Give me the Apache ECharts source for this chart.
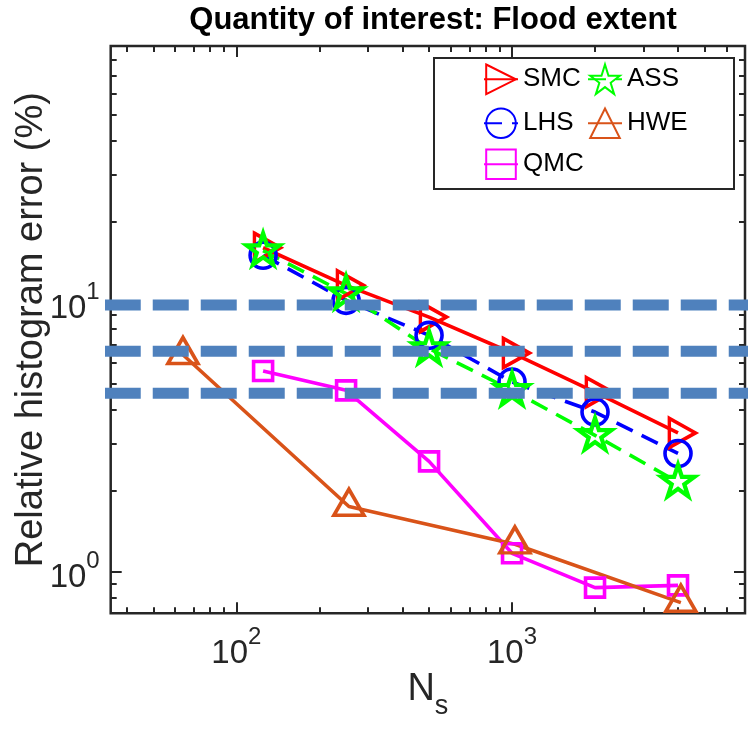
<!DOCTYPE html>
<html>
<head>
<meta charset="utf-8">
<script src="https://cdn.jsdelivr.net/npm/echarts@6/dist/echarts.min.js"></script>
<style>
  html, body { margin: 0; padding: 0; background: #fff; }
  #chart { width: 748px; height: 735px; }
</style>
</head>
<body>
<div id="chart"></div>
<script>
// Sample sizes
const nsStandard = [125, 250, 500, 1000, 2000, 4000];
const nsHwe = [64, 256, 1024, 4096];

// Relative histogram error (%) for each sampling method
const errSMC = [16.0, 11.6, 8.84, 6.5, 4.65, 3.28];
const errLHS = [15.0, 10.2, 7.56, 5.07, 3.92, 2.75];
const errQMC = [5.57, 4.72, 2.57, 1.17, 0.872, 0.889];
const errASS = [15.6, 10.8, 6.75, 4.72, 3.21, 2.15];
const errHWE = [6.40, 1.746, 1.264, 0.767];

// Reference error levels (%), drawn across the whole width
const refLevels = [9.8, 6.6, 4.6];
const refSpan = [33.3, 8000];

// Axis ranges and tick values
const xRange = [35, 7000];
const yRange = [0.7, 90];
const xMajor = [100, 1000];
const xMinor = [40, 50, 60, 70, 80, 90, 200, 300, 400, 500, 600, 700, 800, 900, 2000, 3000, 4000, 5000, 6000];
const yMajor = [1, 10];
const yMinor = [0.8, 0.9, 2, 3, 4, 5, 6, 7, 8, 9, 20, 30, 40, 50, 60, 70, 80];

const FONT = '"Liberation Sans", Arial, Helvetica, sans-serif';
const AXIS_COLOR = '#262626';
const LW = 3.6;

function pairs(xs, ys) { return xs.map((x, i) => [x, ys[i]]); }

// Marker shapes
const triRight = 'path://M0,0 L26,14.5 L0,29 Z';
const triUp = 'path://M15,0 L30,26 L0,26 Z';
function starPath() {
  const pts = [];
  for (let k = 0; k < 10; k++) {
    const a = (-90 + 36 * k) * Math.PI / 180;
    const r = k % 2 === 0 ? 100 : 38.2;
    pts.push((r * Math.cos(a)).toFixed(2) + ',' + (r * Math.sin(a)).toFixed(2));
  }
  return 'path://M' + pts.join(' L') + ' Z';
}
const star = starPath();

const expLabel = v => '{b|10}{s|' + Math.round(Math.log10(v)) + '}';
const labelRich = {
  b: { fontSize: 33, lineHeight: 45, verticalAlign: 'bottom', color: AXIS_COLOR, fontFamily: FONT },
  s: { fontSize: 24, lineHeight: 24, verticalAlign: 'top', color: AXIS_COLOR, fontFamily: FONT }
};

function makeAxis(dim, pos, ticks, len, withLabels) {
  const range = dim === 'x' ? xRange : yRange;
  const ax = {
    type: 'log', logBase: 10, min: range[0], max: range[1], position: pos,
    axisLine: { show: false },
    splitLine: { show: false },
    axisTick: { show: true, inside: true, length: len, customValues: ticks,
      lineStyle: { color: AXIS_COLOR, width: 2 } },
    axisLabel: { show: false }
  };
  if (withLabels) {
    ax.axisLabel = { show: true, customValues: ticks, formatter: expLabel, rich: labelRich,
      margin: dim === 'x' ? 12 : 11 };
  }
  return ax;
}

const xAxes = [
  makeAxis('x', 'bottom', xMajor, 11, true),
  makeAxis('x', 'bottom', xMinor, 6, false),
  makeAxis('x', 'top', xMajor, 11, false),
  makeAxis('x', 'top', xMinor, 6, false)
];
Object.assign(xAxes[0], {
  name: '{n|N}{s|s}', nameLocation: 'middle', nameGap: 57, nameMoveOverlap: false,
  nameTextStyle: { rich: {
    n: { fontSize: 38, lineHeight: 50, verticalAlign: 'top', color: AXIS_COLOR, fontFamily: FONT },
    s: { fontSize: 27, lineHeight: 27, verticalAlign: 'bottom', color: AXIS_COLOR, fontFamily: FONT }
  } }
});
const yAxes = [
  makeAxis('y', 'left', yMajor, 11, true),
  makeAxis('y', 'left', yMinor, 6, false),
  makeAxis('y', 'right', yMajor, 11, false),
  makeAxis('y', 'right', yMinor, 6, false)
];
Object.assign(yAxes[0], {
  name: 'Relative histogram error (%)', nameLocation: 'middle', nameGap: 60, nameRotate: 90,
  nameMoveOverlap: false,
  nameTextStyle: { fontSize: 38, color: AXIS_COLOR, fontFamily: FONT }
});

function methodSeries(name, xs, ys, color, opts) {
  return Object.assign({
    name: name, type: 'line', data: pairs(xs, ys),
    xAxisIndex: 0, yAxisIndex: 0,
    lineStyle: { color: color, width: LW },
    itemStyle: { color: 'rgba(0,0,0,0)', borderColor: color, borderWidth: LW },
    emphasis: { disabled: true },
    z: 3
  }, opts);
}

const series = [
  methodSeries('SMC', nsStandard, errSMC, '#FF0000', {
    symbol: triRight, symbolSize: [26, 29], symbolOffset: [26 / 6, 0]
  }),
  methodSeries('LHS', nsStandard, errLHS, '#0000FF', {
    symbol: 'circle', symbolSize: 26,
    lineStyle: { color: '#0000FF', width: LW, type: [18, 10] }
  }),
  methodSeries('QMC', nsStandard, errQMC, '#FF00FF', {
    symbol: 'rect', symbolSize: 19
  }),
  methodSeries('ASS', nsStandard, errASS, '#00FF00', {
    symbol: star, symbolSize: [33, 31.4], symbolOffset: [0, -1.6],
    lineStyle: { color: '#00FF00', width: LW, type: [18, 10] },
    itemStyle: { color: 'rgba(0,0,0,0)', borderColor: '#00FF00', borderWidth: 4.2 }
  }),
  methodSeries('HWE', nsHwe, errHWE, '#D95319', {
    symbol: triUp, symbolSize: [30, 26], symbolOffset: [0, -26 / 6]
  })
];

refLevels.forEach(lvl => {
  series.push({
    type: 'line', data: refSpan.map(x => [x, lvl]),
    xAxisIndex: 0, yAxisIndex: 0,
    symbol: 'none', clip: false, silent: true,
    lineStyle: { color: '#4F81BD', width: 11, type: [36, 12], cap: 'butt' },
    z: 10
  });
});

function legendAt(name, left, top) {
  return {
    data: [name], left: left, top: top, padding: 0, itemGap: 0,
    itemWidth: 34, itemHeight: 37, selectedMode: false, z: 6,
    textStyle: { fontSize: 26, color: '#000', fontFamily: FONT }
  };
}

const option = {
  animation: false,
  backgroundColor: '#fff',
  title: {
    text: 'Quantity of interest: Flood extent',
    left: 428, top: 0, textAlign: 'center',
    textStyle: { fontSize: 31, fontWeight: 'bold', color: '#000', fontFamily: FONT }
  },
  grid: {
    left: 110.7, top: 46, width: 634.3, height: 567.3,
    containLabel: false, outerBoundsMode: 'none',
    show: true, borderColor: AXIS_COLOR, borderWidth: 2.5, backgroundColor: 'rgba(0,0,0,0)'
  },
  xAxis: xAxes,
  yAxis: yAxes,
  legend: [
    legendAt('SMC', 483, 63.5),
    legendAt('ASS', 587, 63.5),
    legendAt('LHS', 483, 107.5),
    legendAt('HWE', 587, 107.5),
    legendAt('QMC', 483, 148.5)
  ],
  graphic: [{
    type: 'rect', z: 5,
    shape: { x: 434, y: 58, width: 300, height: 131 },
    style: { fill: '#fff', stroke: AXIS_COLOR, lineWidth: 2 }
  }],
  series: series
};

const chart = echarts.init(document.getElementById('chart'), null, { renderer: 'canvas' });
chart.setOption(option);
</script>
</body>
</html>
